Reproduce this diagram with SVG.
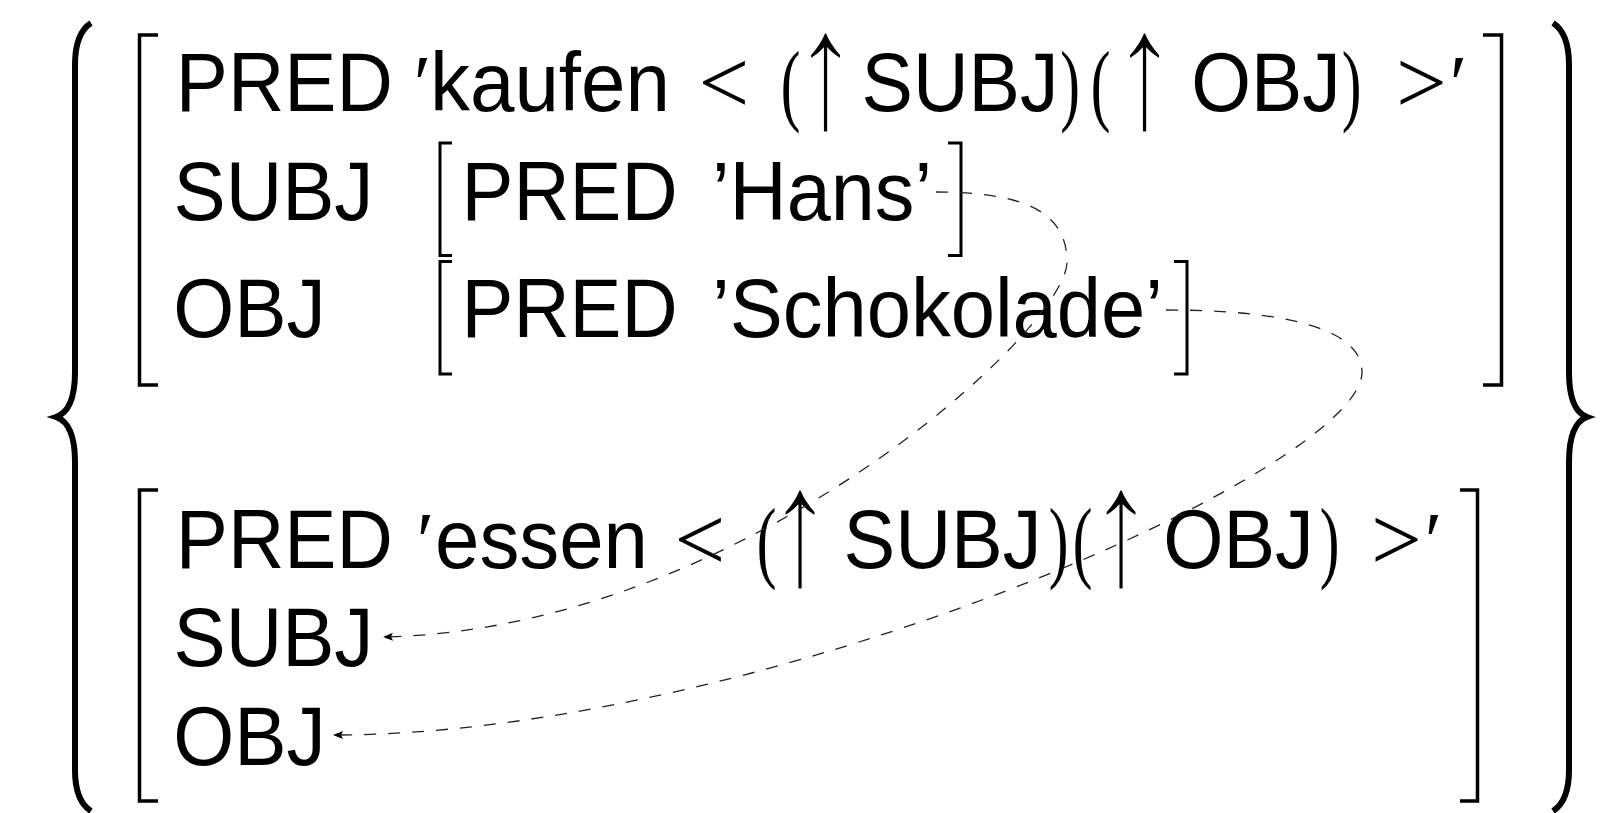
<svg xmlns="http://www.w3.org/2000/svg" width="1624" height="813" viewBox="0 0 1624 813">
<style>
.w{font-family:"Liberation Sans",Arial,sans-serif;font-size:76px;fill:#000}
.m{font-family:"Liberation Serif","DejaVu Serif",serif;fill:#000;text-anchor:middle}
.p{font-size:91px}
.lt{font-size:90px}
.ar{font-size:171px;stroke:#fff;stroke-width:3}
.pr{font-size:80px}
.br{fill:none;stroke:#000;stroke-width:3.5}
.bi{fill:none;stroke:#000;stroke-width:3}
.brace{fill:none;stroke:#000;stroke-width:6}
.link{fill:none;stroke:#222;stroke-width:1.3;stroke-dasharray:12 12}
</style>
<defs>
<marker id="ah" viewBox="-11 -5 12 10" refX="0" refY="0" markerWidth="12" markerHeight="10" markerUnits="userSpaceOnUse" orient="auto">
<path d="M0,0 L-10,-4 L-8,0 L-10,4 Z" fill="#000"/>
</marker>
</defs>
<rect width="1624" height="813" fill="#fff"/>
<g id="brace-left">
<path class="brace" d="M91,23 C80,30 75,45 75,65 V372 C75,400 68,413 56,417 C68,421 75,434 75,462 V770 C75,790 80,804 91,811"/>
</g>
<g id="brace-right">
<path class="brace" d="M1553,23 C1564,30 1569,45 1569,65 V372 C1569,400 1576,413 1587,417 C1576,421 1569,434 1569,462 V770 C1569,790 1564,804 1553,811"/>
</g>
<g id="fs-kaufen">
<path class="br" d="M158,35 H139.5 V385 H158"/>
<path class="br" d="M1483,35 H1501.5 V385 H1483"/>
<g transform="translate(0,111) scale(1,1.1)">
<text class="w" x="175.8" y="0" textLength="217" lengthAdjust="spacingAndGlyphs">PRED</text>
<text class="w" x="430" y="0" textLength="240" lengthAdjust="spacingAndGlyphs">kaufen</text>
<text class="w" x="861.5" y="0" textLength="197" lengthAdjust="spacingAndGlyphs">SUBJ</text>
<text class="w" x="1191.3" y="0" textLength="149.5" lengthAdjust="spacingAndGlyphs">OBJ</text>
</g>
<text class="m pr" x="422.5" y="111">′</text>
<text class="m lt" x="724" y="113">&lt;</text>
<text class="m p" transform="translate(790.5,114) scale(0.65,1)">(</text>
<text class="m ar" transform="translate(825.5,128) scale(0.78,1)">↑</text>
<text class="m p" transform="translate(1070,114) scale(0.65,1)">)</text>
<text class="m p" transform="translate(1100.5,114) scale(0.65,1)">(</text>
<text class="m ar" transform="translate(1144.5,128) scale(0.78,1)">↑</text>
<text class="m p" transform="translate(1351.5,114) scale(0.65,1)">)</text>
<text class="m lt" x="1421.5" y="113">&gt;</text>
<text class="m pr" x="1458.5" y="111">′</text>
<g transform="translate(0,220) scale(1,1.1)">
<text class="w" x="173.5" y="0" textLength="200" lengthAdjust="spacingAndGlyphs">SUBJ</text>
</g>
<g transform="translate(0,337) scale(1,1.1)">
<text class="w" x="173.3" y="0" textLength="152.5" lengthAdjust="spacingAndGlyphs">OBJ</text>
</g>
</g>
<g id="fs-hans">
<path class="bi" d="M452,143 H440 V255.5 H452"/>
<path class="bi" d="M948,143 H961 V255.5 H948"/>
<g transform="translate(0,220) scale(1,1.1)">
<text class="w" x="461.6" y="0" textLength="216" lengthAdjust="spacingAndGlyphs">PRED</text>
<text class="w" x="712" y="0" textLength="220" lengthAdjust="spacingAndGlyphs">’Hans’</text>
</g>
</g>
<g id="fs-schokolade">
<path class="bi" d="M452,261.5 H440 V374 H452"/>
<path class="bi" d="M1174,261.5 H1187 V374 H1174"/>
<g transform="translate(0,337) scale(1,1.1)">
<text class="w" x="461.6" y="0" textLength="216" lengthAdjust="spacingAndGlyphs">PRED</text>
<text class="w" x="712" y="0" textLength="451" lengthAdjust="spacingAndGlyphs">’Schokolade’</text>
</g>
</g>
<g id="fs-essen">
<path class="br" d="M158,490 H139.5 V801 H158"/>
<path class="br" d="M1460,490 H1477.5 V801 H1460"/>
<g transform="translate(0,568) scale(1,1.1)">
<text class="w" x="175.8" y="0" textLength="217" lengthAdjust="spacingAndGlyphs">PRED</text>
<text class="w" x="435" y="0" textLength="213" lengthAdjust="spacingAndGlyphs">essen</text>
<text class="w" x="843.5" y="0" textLength="198" lengthAdjust="spacingAndGlyphs">SUBJ</text>
<text class="w" x="1163.3" y="0" textLength="150.5" lengthAdjust="spacingAndGlyphs">OBJ</text>
</g>
<text class="m pr" x="425.5" y="568">′</text>
<text class="m lt" x="700" y="570">&lt;</text>
<text class="m p" transform="translate(766.5,571) scale(0.65,1)">(</text>
<text class="m ar" transform="translate(800,585) scale(0.78,1)">↑</text>
<text class="m p" transform="translate(1058.5,571) scale(0.65,1)">)</text>
<text class="m p" transform="translate(1082.5,571) scale(0.65,1)">(</text>
<text class="m ar" transform="translate(1121,585) scale(0.78,1)">↑</text>
<text class="m p" transform="translate(1329.5,571) scale(0.65,1)">)</text>
<text class="m lt" x="1396.5" y="570">&gt;</text>
<text class="m pr" x="1433.5" y="568">′</text>
<g transform="translate(0,666) scale(1,1.1)">
<text class="w" x="173.5" y="0" textLength="200" lengthAdjust="spacingAndGlyphs">SUBJ</text>
</g>
<g transform="translate(0,765) scale(1,1.1)">
<text class="w" x="173.3" y="0" textLength="152.5" lengthAdjust="spacingAndGlyphs">OBJ</text>
</g>
</g>
<g id="connectors">
<path class="link" marker-end="url(#ah)" d="M936,192 C1030,192 1067,215 1067,262 C1067,330 740,630 383,637"/>
<path class="link" marker-end="url(#ah)" d="M1166,310 C1290,310 1362,330 1362,372 C1362,470 760,735 333,735"/>
</g>
</svg>
